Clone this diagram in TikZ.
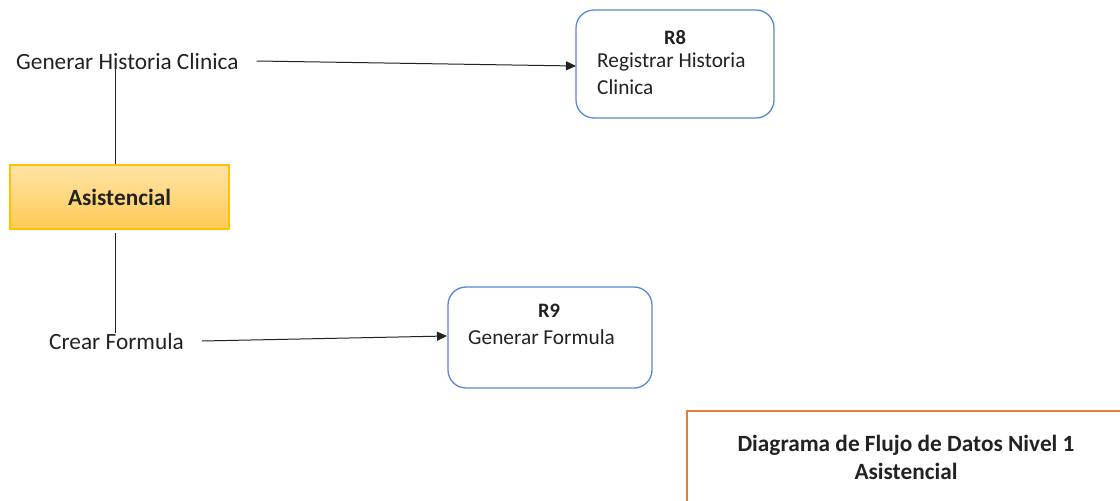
\documentclass[tikz,border=0pt]{standalone}
\usepackage{fontspec}
\setmainfont{Carlito}
\usetikzlibrary{arrows.meta}
\definecolor{procblue}{HTML}{5B87D4}
\definecolor{entgold}{HTML}{FFC000}
\definecolor{enttop}{HTML}{FFE3A6}
\definecolor{entbot}{HTML}{FFCB55}
\definecolor{titleorange}{HTML}{ED7D31}
\definecolor{inkgray}{HTML}{222222}
\tikzset{
  flowlabel/.style={inner sep=0pt, anchor=west, font=\fontsize{23.3}{28}\selectfont, text=inkgray},
  process/.style={draw=procblue, line width=1.3pt, rounded corners=18pt, fill=white},
  entity/.style={draw=entgold, line width=1.2pt, top color=enttop, bottom color=entbot,
    minimum width=219pt, minimum height=64pt, font=\bfseries\fontsize{23.3}{28}\selectfont, text=inkgray},
  flow/.style={line width=1pt, draw=inkgray, -{Triangle[length=10pt,width=9pt]}},
  link/.style={line width=1pt, draw=inkgray},
  ptext/.style={inner sep=0pt, font=\fontsize{21.3}{26}\selectfont, text=inkgray},
  ptitle/.style={inner sep=0pt, font=\bfseries\fontsize{20.5}{25}\selectfont, text=inkgray},
}
\begin{document}
\begin{tikzpicture}[x=1pt,y=-1pt]
\useasboundingbox (0,0) rectangle (1120,501);

% external entity
\node[entity] (asis) at (119.5,197) {Asistencial};

% flow labels
\node[flowlabel] (ghc) at (16,61) {Generar Historia Clinica};
\node[flowlabel] (cf) at (49,341) {Crear Formula};

% processes
\draw[process] (576,10) rectangle (774,118);
\node[ptitle] (r8t) at (675,37) {R8};
\node[ptext, anchor=west] (r8a) at (597,62) {Registrar Historia};
\node[ptext, anchor=west] (r8b) at (597,87) {Clinica};
\coordinate (r8in) at (576,66);

\draw[process] (448,287) rectangle (652,388);
\node[ptitle] (r9t) at (549,311) {R9};
\node[ptext, anchor=west] (r9a) at (468,337) {Generar Formula};
\coordinate (r9in) at (447,336);

% links from the entity to the flow labels
\coordinate (up1) at (115,62);
\coordinate (dn1) at (115,333);
\draw[link] (asis.north -| up1) -- (up1);
\draw[link] ([yshift=-3pt]asis.south -| dn1) -- (dn1);

% data flows
\draw[flow] ([xshift=18pt]ghc.east) -- (r8in);
\draw[flow] ([xshift=18pt]cf.east) -- (r9in);

% title block
\draw[titleorange, line width=1.2pt] (687,501) -- (687,411) -- (1121,411);
\node[align=center, font=\bfseries\fontsize{23.3}{28}\selectfont, text=inkgray] (title) at (906,457)
  {Diagrama de Flujo de Datos Nivel 1\\Asistencial};
\end{tikzpicture}
\end{document}
